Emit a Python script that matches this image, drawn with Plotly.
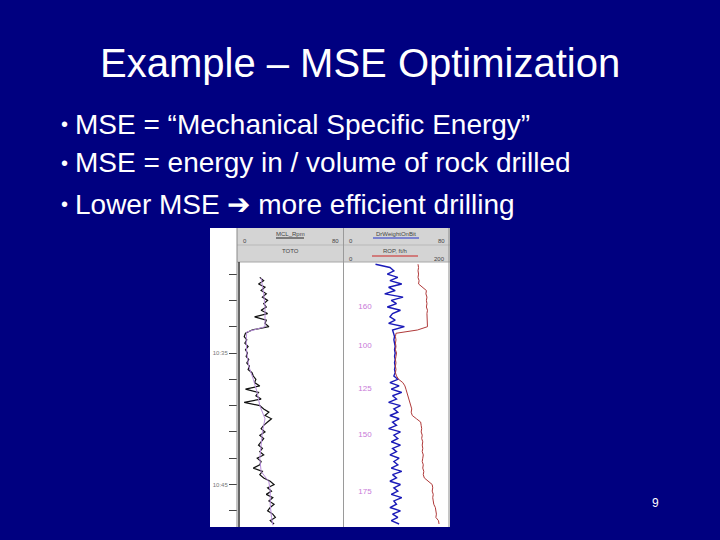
import plotly.graph_objects as go

# ---------------- data ----------------
title_text = "Example – MSE Optimization"
bullets = [
    "MSE = “Mechanical Specific Energy”",
    "MSE = energy in / volume of rock drilled",
    "Lower MSE ➔ more efficient drilling",
]
page_number = "9"

# time index (minutes past 10:00)
time_min = [28.25, 28.5, 28.75, 29.0, 29.25, 29.5, 29.75, 30.0, 30.25, 30.5,
            30.75, 31.0, 31.25, 31.5, 31.75, 32.0, 32.25, 32.5, 32.75, 33.0,
            33.25, 33.5, 33.75, 34.0, 34.25, 34.5, 34.75, 35.0, 35.25, 35.5,
            35.75, 36.0, 36.25, 36.5, 36.75, 37.0, 37.25, 37.5, 37.75, 38.0,
            38.25, 38.5, 38.75, 39.0, 39.25, 39.5, 39.75, 40.0, 40.25, 40.5,
            40.75, 41.0, 41.25, 41.5, 41.75, 42.0, 42.25, 42.5, 42.75, 43.0,
            43.25, 43.5, 43.75, 44.0, 44.25, 44.5, 44.75, 45.0, 45.25, 45.5,
            45.75, 46.0, 46.25, 46.5, 46.75, 47.0, 47.25, 47.5, 47.75, 48.0]

rpm = [None, None, None, None,
       16, 19, 15, 20, 17, 21, 18, 22,
       19, 21, 17, 22, 12, 21, 20, 23,
       10, 5, 4, 6, 4.5, 7, 5, 6.5,
       5.5, 7.5, 6, 8, 7, 10, 11, 13,
       12, 16, 5, 15, 13, 17, 4, 16,
       19, 23, 20, 25, 22, 19, 17, 20,
       16, 19, 17, 15, 18, 16, 19, 14,
       17, 16, 11, 18, 16, 19, 24, 27,
       22, 25, 21, 26, 23, 27, 24, 22,
       26, 28, 24, 27]

rpm_avg_time = [29.3, 30.5, 31.5, 32.5, 33.0, 33.4, 34.0, 35.0, 36.0, 37.0, 38.0,
                39.0, 40.0, 41.0, 42.0, 43.0, 44.0, 44.8, 45.5, 46.5, 47.5, 48.1]
rpm_avg = [17, 19, 20, 20, 20, 6, 5.5, 6, 7.5, 11, 14,
           16, 20, 18, 17, 16, 17, 23, 24, 24, 25, 26]

wob = [24, 35, 38, 33, 41, 35, 44, 34,
       39, 31, 45, 36, 40, 33, 43, 37,
       35, 39, 34, 46, 37, 38, 38.5, 38,
       38.5, 39, 38.5, 39, 38.5, 39, 38.5, 39,
       38.5, 39, 38, 41, 35, 42, 36, 44,
       37, 40, 34, 43, 38, 41, 35, 42,
       37, 40, 34, 43, 38, 41, 36, 43,
       37, 40, 35, 42, 38, 41, 36, 44,
       37, 40, 35, 43, 38, 41, 36, 44,
       38, 40, 35, 43, 37, 41, 36, 42]

rop = [141, 142, 141, 142, 141, 143, 142, 150,
       157, 156, 158, 157, 158, 157, 159, 158,
       158, 159, 158, 159, 140, 99, 98, 99,
       98, 99, 98, 100, 99, 98, 99, 98,
       99, 98, 100, 104, 112, 116, 118, 120,
       122, 124, 126, 128, 129, 128, 130, 138,
       146, 147, 148, 147, 149, 148, 150, 149,
       150, 149, 151, 150, 149, 151, 150, 152,
       151, 153, 160, 168, 169, 168, 170, 169,
       170, 171, 174, 175, 176, 175, 180, 181]

depth_labels = ["160", "100", "125", "150", "175"]
depth_label_time = [31.5, 34.5, 37.7, 41.2, 45.6]

tick_times = [29, 31, 33, 35, 37, 39, 41, 43, 45, 47]
tick_labels = ["", "", "", "10:35", "", "", "", "", "10:45", ""]

# ---------------- figure ----------------
W, H = 720, 540
def px(x): return x / W
def py(y): return 1 - y / H

NAVY = "#000080"
FONT = "Liberation Sans, Arial, sans-serif"

fig = go.Figure()
fig.add_trace(go.Scatter(x=rpm, y=time_min, mode="lines", xaxis="x", yaxis="y",
                         line=dict(color="#111111", width=1.2), showlegend=False))
fig.add_trace(go.Scatter(x=rpm_avg, y=rpm_avg_time, mode="lines", xaxis="x", yaxis="y",
                         line=dict(color="#b98fdc", width=1), showlegend=False))
fig.add_trace(go.Scatter(x=rop, y=time_min, mode="lines", xaxis="x3", yaxis="y",
                         line=dict(color="#b03a3a", width=1), showlegend=False))
fig.add_trace(go.Scatter(x=wob, y=time_min, mode="lines", xaxis="x2", yaxis="y",
                         line=dict(color="#1a1ab8", width=1.4), showlegend=False))
fig.add_trace(go.Scatter(x=[16] * len(depth_labels), y=depth_label_time, mode="text",
                         text=depth_labels, xaxis="x2", yaxis="y",
                         textfont=dict(color="#c87ad8", size=8, family=FONT),
                         showlegend=False))

ydom = [py(527), py(262)]
fig.update_layout(
    width=W, height=H, margin=dict(l=0, r=0, t=0, b=0),
    paper_bgcolor=NAVY, plot_bgcolor="white",
    xaxis=dict(domain=[px(239), px(343)], range=[0, 80], visible=False, anchor="y"),
    xaxis2=dict(domain=[px(344), px(449)], range=[0, 80], visible=False, anchor="y"),
    xaxis3=dict(overlaying="x2", range=[0, 200], visible=False, anchor="y"),
    yaxis=dict(domain=ydom, range=[48.23, 28.08], anchor="free", position=px(237),
               tickvals=tick_times, ticktext=tick_labels, ticks="outside", ticklen=8,
               tickcolor="#444444", tickwidth=1,
               tickfont=dict(size=6, color="#777777", family=FONT),
               showgrid=False, zeroline=False, showline=False),
)

shapes = []
def rect(x0, y0, x1, y1, fill, layer="below"):
    shapes.append(dict(type="rect", xref="paper", yref="paper", x0=px(x0), x1=px(x1),
                       y0=py(y1), y1=py(y0), fillcolor=fill, line=dict(width=0), layer=layer))
def line(x0, y0, x1, y1, color, width=1, layer="above"):
    shapes.append(dict(type="line", xref="paper", yref="paper", x0=px(x0), x1=px(x1),
                       y0=py(y0), y1=py(y1), line=dict(color=color, width=width), layer=layer))

rect(210, 228, 450, 527, "white")
rect(237, 228, 450, 262, "#d4d4d4", layer="above")
line(237, 245, 450, 245, "#b8b8b8")
line(237, 262, 450, 262, "#a8a8a8")
line(237, 228, 237, 527, "#8a8a8a")
line(239, 262, 239, 527, "#333333", 1.5)
line(343.5, 228, 343.5, 527, "#9a9a9a")
line(449, 228, 449, 527, "#8a8a8a")
line(276, 238, 304, 238, "#222222")
line(373, 238, 419, 238, "#2233cc")
line(372, 256, 418, 256, "#cc2222")
fig.update_layout(shapes=shapes)

ann = []
def text(x, y, s, size, color="white", xanchor="center", yanchor="middle"):
    ann.append(dict(x=px(x), y=py(y), xref="paper", yref="paper", text=s, showarrow=False,
                    xanchor=xanchor, yanchor=yanchor,
                    font=dict(size=size, color=color, family=FONT)))

text(360, 63, title_text, 40)
for i, b in enumerate(bullets):
    yy = [124, 163, 204][i]
    text(59, yy, "•", 20, xanchor="left")
    text(73, yy, b, 28, xanchor="left")
text(655, 503, page_number, 12)

hc = "#444444"
text(290, 234, "MCL_Rpm", 6, hc)
text(241, 241, "0", 6, hc, xanchor="left")
text(341, 241, "80", 6, hc, xanchor="right")
text(396, 234, "DrWeightOnBit", 6, hc)
text(347, 241, "0", 6, hc, xanchor="left")
text(447, 241, "80", 6, hc, xanchor="right")
text(290, 251, "TOTO", 6, hc)
text(395, 251, "ROP, ft/h", 6, hc)
text(347, 259, "0", 6, hc, xanchor="left")
text(447, 259, "200", 6, hc, xanchor="right")
fig.update_layout(annotations=ann)

fig.write_html("out.html", config={"displayModeBar": False},
               post_script="document.body.style.margin='0';document.body.style.background='#000080';")
